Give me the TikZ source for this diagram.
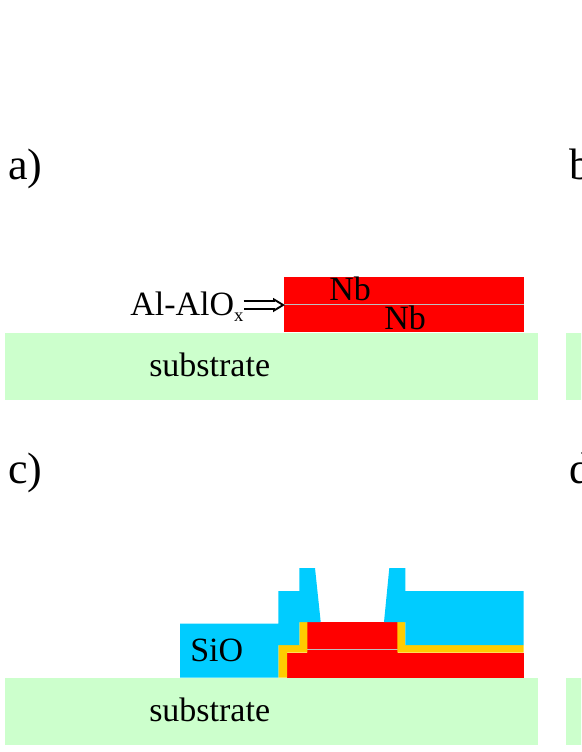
\documentclass[tikz,border=0pt]{standalone}
\usepackage{fontspec}
\setmainfont{Liberation Serif}
\usetikzlibrary{arrows.meta}
\definecolor{subgreen}{HTML}{CCFFCC}
\definecolor{nbred}{HTML}{FF0000}
\definecolor{siblue}{HTML}{00CCFF}
\definecolor{oxgold}{HTML}{FFCC00}
\newcommand{\subs}[3]{\fill[subgreen] (#1,#3) rectangle (#2,#3+67);}
\newcommand{\layer}[4]{\fill[nbred] (#1,#3) rectangle (#2,#4);}
\tikzset{
  lbl/.style={anchor=base west, inner sep=0pt, font=\fontsize{25.5}{30}\selectfont},
  panel/.style={anchor=base west, inner sep=0pt, font=\fontsize{33}{38}\selectfont},
  oxline/.style={draw=black!25, line width=0.9pt}
}
\begin{document}
\begin{tikzpicture}[x=0.75pt,y=-0.75pt]
  \useasboundingbox (0,0) rectangle (581,752);
  \clip (0,0) rectangle (581,752);
  % ------------------------------------------------------------------ (a) trilayer
  \subs{5}{538}{333} \subs{566}{590}{333}
  \layer{284}{524}{277}{332}
  \draw[oxline] (284,304.7) -- (524,304.7);
  \node[panel] (a) at (8,180) {a)};
  \node[panel] (b) at (569,180) {b)};
  \node[lbl] (nbtop) at (329,300) {Nb};
  \node[lbl] (nbbot) at (384,329) {Nb};
  \node[lbl] (suba) at (149,376) {substrate};
  \node[lbl] (alox) at (130,315) {Al-AlO\raisebox{-5pt}{\fontsize{14}{14}\selectfont x}};
  \coordinate (oxtip) at (285,305);
  \draw[line width=1.4pt, double, double distance=4pt,
    -{Triangle[open, fill=white, length=9pt, width=10.5pt, line width=1.4pt]}]
    (alox.east |- oxtip) -- (oxtip);
  \fill[white] (262,302.4) rectangle (276,307.6);
  % ------------------------------------------------------------------ (c) window
  \subs{5}{538}{678} \subs{566}{590}{678}
  \layer{287}{523.5}{652.7}{677.5}
  \layer{307}{397.5}{622}{653}
  \draw[oxline] (307,649.5) -- (397.5,649.5);
  \fill[oxgold] (278.3,677.5) -- (278.3,645) -- (299.3,645) -- (299.3,622) -- (307.3,622)
    -- (307.3,652.7) -- (287,652.7) -- (287,677.5) -- cycle;
  \fill[oxgold] (397.3,622) -- (405.3,622) -- (405.3,645) -- (523.5,645) -- (523.5,652.7)
    -- (397.3,652.7) -- cycle;
  \fill[siblue] (180,677.5) -- (180,623.5) -- (278.3,623.5) -- (278.3,591) -- (299.3,591)
    -- (299.3,568) -- (315,568) -- (320.7,622) -- (299.3,622) -- (299.3,645) -- (278.3,645)
    -- (278.3,677.5) -- cycle;
  \fill[siblue] (389.3,568) -- (405.3,568) -- (405.3,591) -- (523.5,591) -- (523.5,645)
    -- (405.3,645) -- (405.3,622) -- (384,622) -- cycle;
  \node[panel] (c) at (8,483) {c)};
  \node[panel] (d) at (569,483) {d)};
  \node[lbl] (sio) at (190,661) {SiO};
  \node[lbl] (subc) at (149,721) {substrate};
\end{tikzpicture}
\end{document}
